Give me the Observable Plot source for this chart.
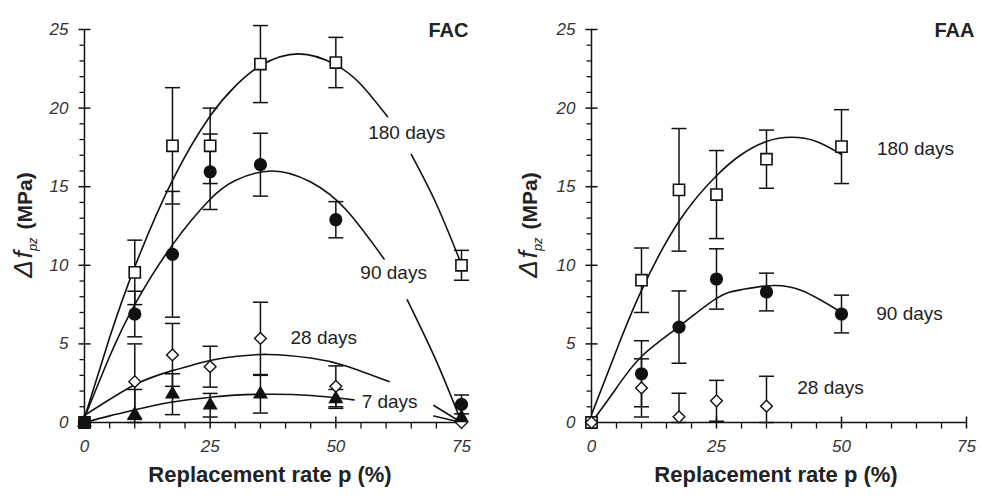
<!DOCTYPE html>
<html><head><meta charset="utf-8">
<script src="https://cdn.jsdelivr.net/npm/d3@7"></script>
<script src="https://cdn.jsdelivr.net/npm/@observablehq/plot@0.6"></script>
<style>
body{margin:0;background:#fff;}
#wrap{position:relative;width:982px;height:496px;overflow:hidden;background:#fff;}
#left,#right{position:absolute;top:0;}
#left{left:0;} #right{left:491px;}
</style></head><body><div id="wrap"><div id="left"></div><div id="right"></div></div>
<script>
// ---------- data ----------
const xTicks = [0, 25, 50, 75];
const yTicks = [0, 5, 10, 15, 20, 25];
const xTitle = "Replacement rate p (%)";

// FAC panel
const facRates = [0, 10, 17.5, 25, 35, 50, 75];
const fac180 = [0, 9.55, 17.6, 17.6, 22.8, 22.9, 10.0];
const fac180Err = [0, 2.05, 3.7, 2.4, 2.45, 1.6, 0.95];
const fac90 = [0, 6.9, 10.7, 15.95, 16.4, 12.9, 1.15];
const fac90Err = [0, 1.45, 4.0, 2.4, 2.0, 1.15, 0.6];
const fac28 = [0, 2.6, 4.3, 3.55, 5.35, 2.3, 0.0];
const fac28Err = [0, 2.4, 2.0, 1.3, 2.3, 1.3, 0];
const fac7 = [0, 0.5, 1.8, 1.1, 1.8, 1.5, 0.3];
const fac7Err = [0, 1.6, 1.3, 0.75, 1.2, 0.6, 0];

// FAC fitted curves (null = gap for a label)
const fac180CurveX = [0, 5, 10, 17.5, 25, 30, 35, 42.6, 50, 55, 60.3, null, 65, 70, 75];
const fac180CurveY = [0.3, 5.4, 9.9, 15.4, 19.5, 21.4, 22.7, 23.45, 22.75, 21.5, 19.45, null, 17.05, 13.9, 10.05];
const fac90CurveX = [0, 5, 10, 17.5, 25, 30, 37.3, 45, 52, 59.6, null, 64.2, 70, 75];
const fac90CurveY = [0.3, 4.2, 7.5, 11.3, 14.2, 15.4, 16.0, 15.3, 13.55, 10.4, null, 7.8, 3.9, 0];
const fac28CurveX = [0, 10, 17.5, 25, 30, 36.4, 45, 52, 60.6, null, 69.5, 75];
const fac28CurveY = [0.45, 2.4, 3.3, 3.95, 4.2, 4.33, 4.1, 3.6, 2.6, null, 1.08, 0];
const fac7CurveX = [0, 5, 10, 17.5, 25, 30, 37, 45, 53.6, null, 69.5, 75];
const fac7CurveY = [0, 0.42, 0.8, 1.3, 1.6, 1.74, 1.8, 1.72, 1.44, null, 0.41, 0];

const facLabels = ["180 days", "90 days", "28 days", "7 days"];
const facLabelX = [64.1, 61.5, 47.6, 60.7];
const facLabelY = [18.4, 9.5, 5.4, 1.3];

// FAA panel
const faaRates = [0, 10, 17.5, 25, 35, 50];
const faa180 = [0, 9.05, 14.8, 14.5, 16.75, 17.55];
const faa180Err = [0, 2.05, 3.9, 2.8, 1.85, 2.35];
const faa90 = [0, 3.1, 6.07, 9.13, 8.3, 6.9];
const faa90Err = [0, 2.1, 2.3, 1.92, 1.2, 1.2];
const faa28Rates = [0, 10, 17.5, 25, 35];
const faa28 = [0, 2.2, 0.36, 1.38, 1.04];
const faa28Err = [0, 1.85, 1.5, 1.3, 1.9];

const faa180CurveX = [0, 5, 10, 17.5, 25, 30, 35, 40, 45, 50];
const faa180CurveY = [0.5, 4.6, 8.4, 12.8, 15.7, 17.05, 17.88, 18.15, 17.88, 17.05];
const faa90CurveX = [0, 5, 10, 17.5, 25, 30, 35.5, 42, 50];
const faa90CurveY = [0, 2.2, 4.2, 6.1, 7.9, 8.45, 8.7, 8.4, 7.0];

const faaLabels = ["180 days", "90 days", "28 days"];
const faaLabelX = [64.8, 63.6, 47.8];
const faaLabelY = [17.4, 6.9, 2.2];

// ---------- helpers ----------
const FONT = "'Liberation Sans', Arial, Helvetica, sans-serif";
const INK = "#111";
const TXT = "#222";
const hLine = (a, b) => ({draw(ctx) { ctx.moveTo(a, 0); ctx.lineTo(b, 0); }});
const vLine = (a, b) => ({draw(ctx) { ctx.moveTo(0, a); ctx.lineTo(0, b); }});
const pts = (xs, ys, es) => xs.map((x, i) => ({x, y: ys[i], e: es ? es[i] : 0}));
const curve = (xs, ys) => xs.map((x, i) => ({x, y: ys[i]}));
const minorY = d3.range(0, 26).filter(d => d % 5 !== 0);
const minorX = d3.range(0, 76, 5).filter(d => d % 25 !== 0);

function errMarks(data) {
  const d = data.filter(p => p.e > 0);
  return [
    Plot.ruleX(d, {x: "x", y1: p => Math.max(0, p.y - p.e), y2: p => p.y + p.e, stroke: INK, strokeWidth: 1.5}),
    Plot.dot(d, {x: "x", y: p => p.y + p.e, symbol: hLine(-7.5, 7.5), stroke: INK, fill: "none", strokeWidth: 1.5}),
    Plot.dot(d, {x: "x", y: p => Math.max(0, p.y - p.e), symbol: hLine(-7.5, 7.5), stroke: INK, fill: "none", strokeWidth: 1.5})
  ];
}
const squares = d => Plot.dot(d, {x: "x", y: "y", symbol: "square", r: 6.3, fill: "white", stroke: INK, strokeWidth: 1.6});
const circles = d => Plot.dot(d, {x: "x", y: "y", symbol: "circle", r: 6.6, fill: INK, stroke: "none"});
const diamonds = d => Plot.dot(d, {x: "x", y: "y", symbol: "diamond2", r: 5.3, fill: "white", stroke: INK, strokeWidth: 1.4});
const triangles = d => Plot.dot(d, {x: "x", y: "y", symbol: "triangle", r: 5.6, fill: INK, stroke: "none"});
const line = d => Plot.line(d, {x: "x", y: "y", curve: "natural", stroke: INK, strokeWidth: 1.6});

function axes() {
  return [
    Plot.ruleX([0], {y1: 0, y2: 25, stroke: INK, strokeWidth: 1.5}),
    Plot.ruleY([0], {x1: 0, x2: 75, stroke: INK, strokeWidth: 1.5}),
    Plot.dot(yTicks, {x: () => 0, y: d => d, symbol: hLine(-6, 6), stroke: INK, fill: "none", strokeWidth: 1.5}),
    Plot.dot(minorY, {x: () => 0, y: d => d, symbol: hLine(-5, 0), stroke: INK, fill: "none", strokeWidth: 1.3}),
    Plot.dot(xTicks, {x: d => d, y: () => 0, symbol: vLine(-6, 6), stroke: INK, fill: "none", strokeWidth: 1.5}),
    Plot.dot(minorX, {x: d => d, y: () => 0, symbol: vLine(0, 6), stroke: INK, fill: "none", strokeWidth: 1.3}),
    Plot.axisY({ticks: yTicks, tickSize: 0, tickPadding: 16, label: null, fontSize: 17, fontStyle: "italic", fill: "#333"}),
    Plot.axisX({ticks: xTicks, tickSize: 0, tickPadding: 17, label: null, fontSize: 17, fontStyle: "italic", fill: "#333"}),
    Plot.text([xTitle], {frameAnchor: "bottom", dy: 59, dx: -3, fontWeight: "bold", fontSize: 22, fill: TXT})
  ];
}

function yLabel(svg, x) {
  const t = d3.select(svg).append("text")
    .attr("transform", `translate(${x},225) rotate(-90)`)
    .attr("text-anchor", "middle")
    .attr("font-family", FONT)
    .attr("fill", TXT);
  t.append("tspan").attr("font-style", "italic").attr("font-size", 26).text("\u0394");
  t.append("tspan").attr("font-style", "italic").attr("font-size", 26).attr("dx", 2).text("f");
  t.append("tspan").attr("font-style", "italic").attr("font-size", 13).attr("dy", 5).text("pz");
  t.append("tspan").attr("font-weight", "bold").attr("font-size", 21).attr("dy", -5).attr("dx", 8).text("(MPa)");
}

// ---------- FAC ----------
const facPlot = Plot.plot({
  width: 491, height: 496,
  marginLeft: 84, marginRight: 30, marginTop: 29, marginBottom: 74,
  x: {domain: [0, 75]}, y: {domain: [0, 25]},
  style: {fontFamily: FONT, background: "white", color: INK},
  marks: [
    line(curve(fac180CurveX, fac180CurveY)),
    line(curve(fac90CurveX, fac90CurveY)),
    line(curve(fac28CurveX, fac28CurveY)),
    line(curve(fac7CurveX, fac7CurveY)),
    ...axes(),
    ...errMarks(pts(facRates, fac180, fac180Err)),
    ...errMarks(pts(facRates, fac90, fac90Err)),
    ...errMarks(pts(facRates, fac28, fac28Err)),
    ...errMarks(pts(facRates, fac7, fac7Err)),
    squares(pts(facRates, fac180)),
    diamonds(pts(facRates, fac28)),
    circles(pts(facRates, fac90)),
    triangles(pts(facRates, fac7)),
    Plot.text(facLabels, {x: (d, i) => facLabelX[i], y: (d, i) => facLabelY[i], text: d => d, fontSize: 19, fill: TXT}),
    Plot.text(["FAC"], {frameAnchor: "top-right", dx: 7, dy: -7, textAnchor: "end", fontWeight: "bold", fontSize: 20, fill: TXT})
  ]
});
yLabel(facPlot, 32);
document.getElementById("left").appendChild(facPlot);

// ---------- FAA ----------
const faaPlot = Plot.plot({
  width: 491, height: 496,
  marginLeft: 100, marginRight: 16, marginTop: 29, marginBottom: 74,
  x: {domain: [0, 75]}, y: {domain: [0, 25]},
  style: {fontFamily: FONT, background: "white", color: INK},
  marks: [
    line(curve(faa180CurveX, faa180CurveY)),
    line(curve(faa90CurveX, faa90CurveY)),
    ...axes(),
    ...errMarks(pts(faaRates, faa180, faa180Err)),
    ...errMarks(pts(faaRates, faa90, faa90Err)),
    ...errMarks(pts(faa28Rates, faa28, faa28Err)),
    circles(pts(faaRates, faa90)),
    squares(pts(faaRates, faa180)),
    diamonds(pts(faa28Rates, faa28)),
    Plot.text(faaLabels, {x: (d, i) => faaLabelX[i], y: (d, i) => faaLabelY[i], text: d => d, fontSize: 19, fill: TXT}),
    Plot.text(["FAA"], {frameAnchor: "top-right", dx: 8, dy: -7, textAnchor: "end", fontWeight: "bold", fontSize: 20, fill: TXT})
  ]
});
yLabel(faaPlot, 46);
document.getElementById("right").appendChild(faaPlot);
</script>
</body></html>
